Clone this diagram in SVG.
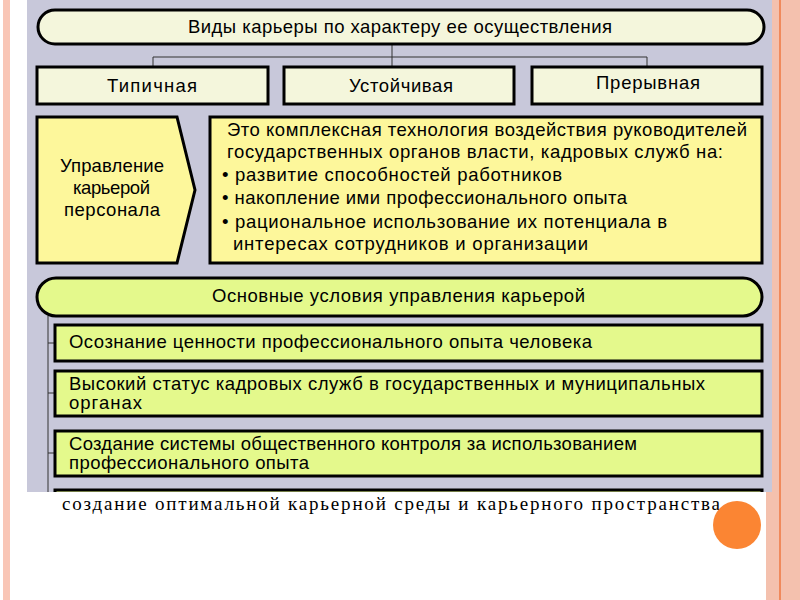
<svg xmlns="http://www.w3.org/2000/svg" width="800" height="600" viewBox="0 0 800 600">
<style>
.t{font-family:"Liberation Sans",Arial,sans-serif;font-size:18.5px;fill:#000}
.b{stroke:#000;stroke-width:3}
.pale{fill:#f4f6dc}
.yel{fill:#fdf79b}
.grn{fill:#e4f98c}
.ln{stroke:#333;stroke-width:1;fill:none}
</style>
<rect width="800" height="600" fill="#fff"/>
<rect x="3" y="0" width="7" height="600" fill="#f9c6b6"/>
<rect x="766" y="0" width="34" height="600" fill="#f4c1ae"/>
<rect x="779" y="0" width="2" height="600" fill="#f08a5c"/>
<rect x="27" y="0" width="745" height="492" fill="#c8c8da"/>
<g id="connectors">
<path class="ln" d="M392 44V57M153 57H647M153 57V67M392 57V67M647 57V67"/>
<path class="ln" d="M48 316V492M48 343H55M48 393H55M48 453H55"/>
</g>
<g id="top"><rect class="b pale" x="38" y="10" width="726" height="34" rx="17"/><text class="t" x="188" y="33" textLength="424" lengthAdjust="spacing">Виды карьеры по характеру ее осуществления</text></g>
<g id="typ"><rect class="b pale" x="37" y="67" width="231" height="37"/><text class="t" x="107" y="92" textLength="90" lengthAdjust="spacing">Типичная</text></g>
<g id="ust"><rect class="b pale" x="284" y="67" width="230" height="37"/><text class="t" x="349" y="92" textLength="104" lengthAdjust="spacing">Устойчивая</text></g>
<g id="pre"><rect class="b pale" x="532" y="67" width="230" height="37"/><text class="t" x="596" y="89" textLength="104" lengthAdjust="spacing">Прерывная</text></g>
<g id="upr"><path class="b yel" d="M37 117H177L195 190L177 263H37Z"/>
<text class="t" x="60" y="172" textLength="104" lengthAdjust="spacing">Управление</text><text class="t" x="73" y="194" textLength="77" lengthAdjust="spacing">карьерой</text><text class="t" x="64" y="216" textLength="96" lengthAdjust="spacing">персонала</text></g>
<g id="desc"><rect class="b yel" x="210" y="117" width="552" height="146"/>
<text class="t" x="227" y="136" textLength="520" lengthAdjust="spacing">Это комплексная технология воздействия руководителей</text>
<text class="t" x="227" y="158" textLength="496" lengthAdjust="spacing">государственных органов власти, кадровых служб на:</text>
<text class="t" x="222" y="181" textLength="340" lengthAdjust="spacing">• развитие способностей работников</text>
<text class="t" x="222" y="204" textLength="405" lengthAdjust="spacing">• накопление ими профессионального опыта</text>
<text class="t" x="222" y="228" textLength="445" lengthAdjust="spacing">• рациональное использование их потенциала в</text>
<text class="t" x="233" y="250" textLength="355" lengthAdjust="spacing">интересах сотрудников и организации</text></g>
<g id="osn"><rect class="b grn" x="37" y="278" width="725" height="38" rx="19"/><text class="t" x="212" y="302" textLength="373" lengthAdjust="spacing">Основные условия управления карьерой</text></g>
<g id="u1"><rect class="b grn" x="55" y="325" width="707" height="36"/><text class="t" x="69" y="348" textLength="523" lengthAdjust="spacing">Осознание ценности профессионального опыта человека</text></g>
<g id="u2"><rect class="b grn" x="55" y="371" width="707" height="45"/><text class="t" x="69" y="390" textLength="636" lengthAdjust="spacing">Высокий статус кадровых служб в государственных и муниципальных</text><text class="t" x="69" y="409" textLength="73" lengthAdjust="spacing">органах</text></g>
<g id="u3"><rect class="b grn" x="55" y="431" width="707" height="45"/><text class="t" x="69" y="450" textLength="568" lengthAdjust="spacing">Создание системы общественного контроля за использованием</text><text class="t" x="69" y="469" textLength="240" lengthAdjust="spacing">профессионального опыта</text></g>
<g id="u4"><rect class="b grn" x="55" y="490" width="707" height="10"/></g>
<rect x="27" y="492" width="739" height="20" fill="#fff"/>
<text x="62" y="510" font-family="'Liberation Serif','Times New Roman',serif" font-size="19" textLength="658" lengthAdjust="spacing">создание оптимальной карьерной среды и карьерного пространства</text>
<circle cx="737" cy="525" r="24" fill="#fb8533"/>
</svg>
